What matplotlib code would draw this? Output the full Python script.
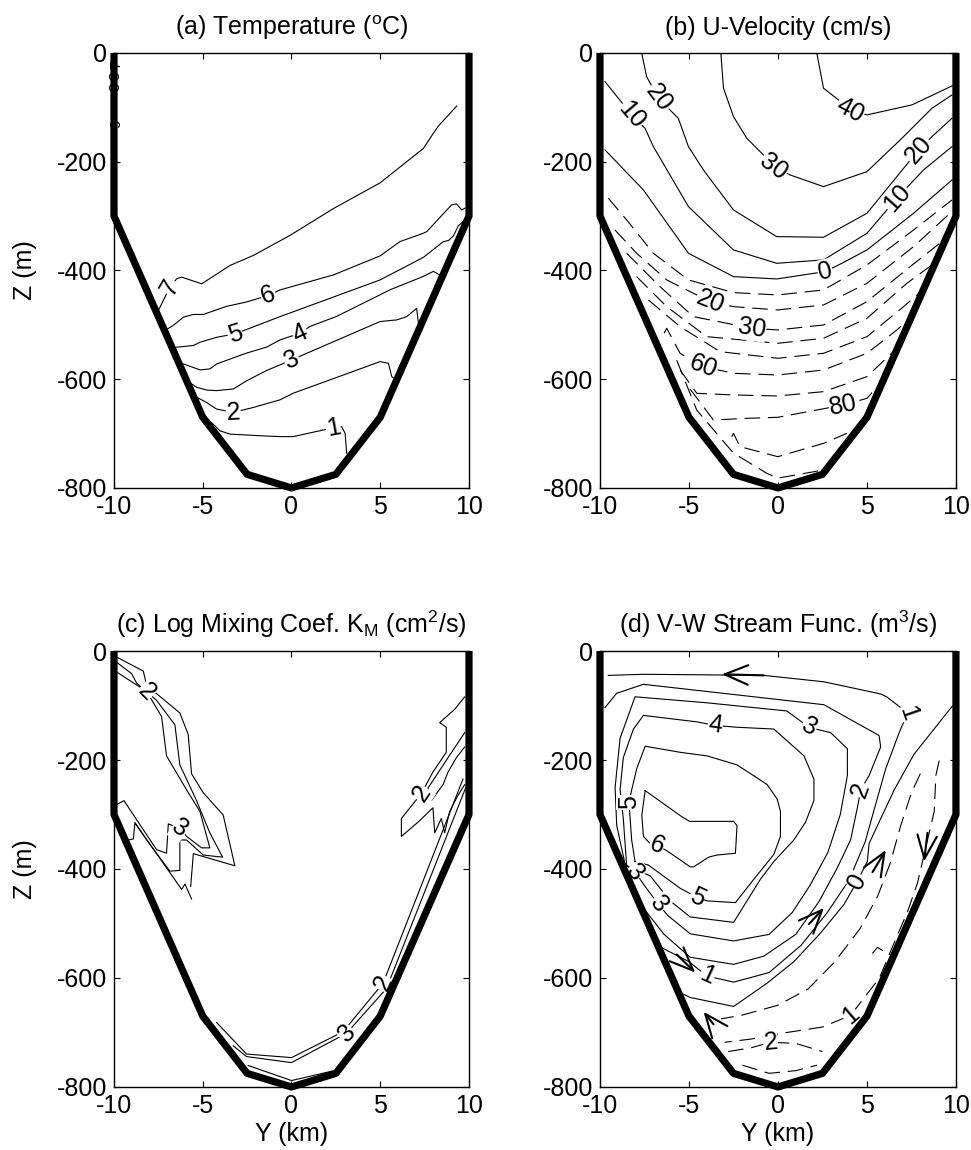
import matplotlib
matplotlib.use('Agg')
import matplotlib.pyplot as plt
import numpy as np

plt.rcParams['font.family'] = ['Liberation Sans', 'DejaVu Sans']
plt.rcParams['axes.unicode_minus'] = False

# ---------------- bathymetry ----------------
BATHY_Y = [-10, -10, -5, -2.5, 0, 2.5, 5, 10, 10]
BATHY_Z = [0, -300, -670, -775, -800, -775, -670, -300, 0]

XTICKS = [-10, -5, 0, 5, 10]
ZTICKS = [0, -200, -400, -600, -800]

# ---------------- (a) temperature contours ----------------
A7_Y = [9.31, 8.27, 7.99, 7.43, 4.99, 2.36, -0.08, -2.15, -3.46, -5.06, -6.19, -6.47, -6.85, -7.50]
A7_Z = [-97.7, -134.6, -148, -175.7, -239, -286.3, -335.5, -372.4, -390.8, -424.6, -412.3, -415.4, -430.7, -473.7]
A6_Y = [9.77, 9.58, 9.30, 9.02, 7.62, 7.43, 6.11, 4.99, 2.36, -0.65, -1.31, -2.53, -3.65, -4.97, -5.53, -6.09, -6.66, -7.10]
A6_Z = [-285.6, -288.7, -277.7, -279.5, -328.6, -331.6, -347, -373.3, -408.3, -435.9, -446, -458, -466, -481, -481, -486, -501, -510]
A5_Y = [9.85, 9.40, 9.12, 8.84, 8.56, 7.43, 4.99, -0.65, -3.18, -4.22, -5.15, -5.53, -6.70]
A5_Z = [-305, -318, -336.6, -345.1, -347, -376, -417.5, -485, -516.7, -523, -532, -538, -542]
A4_Y = [8.45, 8.18, 7.99, 7.43, 6.49, 5.55, 4.99, 2.54, 1.04, 0.48, -0.65, -1.40, -2.53, -4.22, -4.59, -5.15, -6.09, -6.25]
A4_Z = [-411, -404.9, -401.8, -411, -423.3, -435.6, -444.8, -484.6, -503, -515.6, -527.8, -541, -552, -572, -581, -583, -572, -572]
A3_Y = [7.25, 7.15, 7.05, 6.49, 5.93, 4.99, 0.86, 0.01, -1.40, -2.53, -3.28, -4.22, -4.78, -5.34, -5.80]
A3_Z = [-500, -497.3, -469.7, -485, -491, -494, -552.4, -564.6, -584, -603, -618, -621, -620, -615, -605]
A2_Y = [5.75, 5.65, 5.46, 4.99, 0.10, -0.65, -2.15, -3.28, -4.22, -4.78, -5.35]
A2_Z = [-598, -595.3, -570.8, -567.7, -625.8, -638, -652, -661, -655, -643, -633]
A1_Y = [3.25, 3.11, 3.02, 2.83, 2.36, 1.79, 0.10, -0.65, -1.77, -3.46, -4.03, -5.00]
A1_Z = [-742, -736, -699.6, -687.3, -690, -693.4, -705.6, -705.6, -704, -701, -695, -664]
A_LEVELS = ['7', '6', '5', '4', '3', '2', '1']
A_LABEL_IDX = [12, 10, 8, 9, 7, 7, 4]
A_WALL_TEXT = ['7', '8', '8', '9']
A_WALL_Z = [-22, -42, -62, -130]

# ---------------- (b) U-velocity contours ----------------
B40_Y = [2.18, 2.56, 3.40, 4.06, 5.00, 7.53, 9.78]
B40_Z = [0, -65, -86.4, -104.8, -114, -95.6, -60.7]
B30_Y = [-3.21, -3.06, -2.50, -1.75, -0.82, -0.25, 0.68, 2.56, 5.00, 6.87, 8.65, 9.78]
B30_Z = [0, -65, -117.1, -157, -187.6, -209.1, -224.4, -245.9, -218.3, -160, -101.8, -77.3]
B20_Y = [-7.66, -7.38, -6.72, -5.60, -5.03, -4.19, -2.50, -0.07, 2.56, 5.00, 6.68, 7.90, 8.65, 9.78]
B20_Z = [0, -43.5, -83.4, -120.2, -172.3, -215.2, -288.8, -337.8, -339, -294.9, -227.5, -178.4, -153.9, -120.2]
B10_Y = [-9.72, -8.22, -7.47, -7.00, -5.03, -2.50, -0.07, 2.56, 5.00, 6.68, 8.18, 9.78]
B10_Z = [-52.7, -114, -138.6, -172.3, -282.6, -362.3, -386.9, -380.7, -331.7, -267.3, -215.2, -172.3]
B0_Y = [-9.72, -7.56, -5.03, -2.50, -0.07, 2.65, 3.59, 5.00, 7.62, 9.78]
B0_Z = [-178.4, -252, -368.5, -411.4, -415.7, -402.2, -386.9, -362.3, -294.9, -233.6]
B_SOLID_LABELS = [('40', [3]), ('30', [5]), ('20', [2, 11]), ('10', [1, 9]), ('0', [5])]
# dashed (negative) contours
BN10_Y = [-9.53, -8.50, -7.00, -5.03, -2.50, -0.01, 2.56, 5.00, 7.62, 9.78]
BN10_Z = [-267.3, -307.2, -368.5, -417.5, -440.8, -445.1, -435.9, -390, -325.6, -270.4]
BN20_Y = [-9.16, -7.94, -6.25, -3.81, -2.50, -0.01, 2.56, 5.00, 7.62, 9.87]
BN20_Z = [-325.6, -368.5, -417.5, -457.4, -466.6, -472.7, -463.5, -423.7, -356.2, -288.8]
BN30_Y = [-8.50, -6.63, -4.75, -1.47, -0.01, 2.56, 5.00, 7.43, 9.21]
BN30_Z = [-368.5, -429.8, -485, -506.4, -509.5, -500.3, -457.4, -393, -347]
BN40_Y = [-7.94, -6.25, -4.00, -0.01, 2.56, 5.00, 7.24, 8.78]
BN40_Z = [-411.4, -466.6, -521.8, -534, -524.8, -488, -423.7, -386.9]
BN50_Y = [-7.28, -5.50, -3.25, -0.01, 2.56, 5.00, 7.06, 8.14]
BN50_Z = [-454.3, -503.4, -549.4, -561.6, -552.4, -521.8, -466.6, -435.9]
BN60_Y = [-6.40, -6.25, -5.50, -4.19, -2.50, -0.01, 2.56, 5.00, 6.68, 7.51]
BN60_Z = [-515.6, -506.4, -552.4, -576.9, -589.2, -592.3, -583.1, -552.4, -509.5, -485]
BN70_Y = [-5.50, -4.56, -2.50, -0.01, 2.56, 5.00, 6.68]
BN70_Z = [-583.1, -626, -629, -630.9, -622.9, -595.3, -543.2]
BN80_Y = [-4.94, -3.63, -1.75, -0.01, 3.68, 5.00, 5.93]
BN80_Z = [-618, -675, -672, -670.1, -647.5, -635.2, -601.5]
BN90_Y = [-2.60, -2.50, -2.13, -0.01, 2.56, 3.87]
BN90_Z = [-706, -699.6, -724.1, -742.5, -718, -699.6]
BN100_Y = [-5.69, -4.56, -2.50, -0.63, -0.01, 2.56]
BN100_Z = [-565, -657, -736, -773, -782, -767]
B_DASHED_LABELS = [('', []), ('20', [3]), ('30', [3]), ('', []), ('', []), ('60', [3]), ('', []), ('80', [4]), ('', []), ('', [])]

# ---------------- (c) log mixing coefficient ----------------
CL1_Y = [-9.81, -8.35, -8.16, -6.29, -5.82, -5.63, -4.97, -3.85, -3.19, -5.53, -5.68]
CL1_Z = [-11.8, -36.8, -63.1, -113.6, -153, -225.3, -260.1, -300.8, -394.1, -371.8, -432.2]
CL2_Y = [-9.81, -9.01, -8.72, -7.60, -6.57, -6.29, -5.35, -4.60, -3.88, -4.97, -5.91, -6.29, -6.29, -6.85, -8.16, -8.82, -8.91, -9.19]
CL2_Z = [-21.7, -41.4, -59.1, -90.6, -135.3, -208.9, -274.5, -333.7, -378.3, -374.4, -346.8, -346.8, -402.6, -404, -346.8, -315.3, -344.8, -346.8]
CL3_Y = [-9.81, -8.16, -7.32, -7.04, -5.91, -5.16, -4.60, -5.07, -5.91, -6.29, -6.94, -7.04, -7.60, -9.44, -9.81]
CL3_Z = [-39.4, -74.2, -120.2, -192.4, -254.8, -294.3, -361.2, -361.2, -340.2, -325.8, -317.2, -371.1, -364.5, -274.5, -281.1]
CL4_Y = [-8.82, -6.19, -6.00, -5.63]
CL4_Z = [-315.3, -437.4, -427.6, -455.2]
CR1_Y = [9.76, 9.19, 8.35, 8.72, 8.72, 7.97, 7.32, 6.19, 6.19, 7.13, 7.97, 8.07, 8.44, 8.63, 8.91, 9.38, 9.76]
CR1_Z = [-84.1, -107.1, -131.4, -139.9, -185.9, -222, -261.4, -307.4, -340.2, -314, -287.7, -333.7, -307.4, -333.7, -294.3, -264.7, -245]
CR2_Y = [9.76, 8.82, 7.69, 7.88, 8.54, 8.82, 9.29, 9.76]
CR2_Z = [-149.8, -195.7, -251.6, -274.5, -245, -222, -195.7, -176]
CB1_Y = [9.66, 5.16, 3.00, 2.53, 0.00, -2.53, -4.22]
CB1_Z = [-235, -609.5, -694.9, -704.8, -746.1, -739.6, -681.8]
CB2_Y = [9.85, 5.35, 3.10, 2.53, 0.00, -2.53, -3.28]
CB2_Z = [-248, -619.4, -701.5, -711.3, -755.3, -744.2, -724.5]
CB3_Y = [-2.44, 0.00, 2.35]
CB3_Z = [-760.6, -788.2, -770.4]
C_LABELS = [('', []), ('', []), ('2', [1]), ('', []), ('2', [6]), ('', []), ('2', [1]), ('3', [2]), ('', [])]
C_LABEL3_IDX = 9

# ---------------- (d) stream function ----------------
D6_Y = [-7.46, -5.49, -4.97, -2.49, -2.30, -2.39, -3.43, -3.90, -4.74, -4.93, -6.24, -6.81, -7.18, -7.56, -7.65, -7.46]
D6_Z = [-256.2, -302.1, -312.6, -312.6, -320.5, -371.1, -374.4, -378.3, -396.1, -396.1, -366.5, -356.7, -353.4, -340.2, -300.8, -256.2]
D5_Y = [-8.03, -8.22, -8.37, -8.22, -7.93, -7.46, -5.49, -3.99, -2.30, -0.61, -0.05, 0.14, 0.14, -0.23, -1.36, -2.39, -3.99, -4.55, -5.49, -7.28, -8.03]
D5_Z = [-386.2, -346.8, -277.8, -254.8, -215.4, -174.7, -185.9, -192.4, -208.9, -245, -271.3, -294.3, -340.2, -373.1, -419, -461.7, -458.5, -451.9, -435.5, -392.8, -386.2]
D4_Y = [-8.50, -8.69, -8.87, -8.69, -8.12, -7.56, -4.55, -3.52, -2.30, -0.23, 1.46, 2.02, 2.02, 1.55, 0.89, -0.23, -0.99, -2.49, -4.93, -6.06, -7.18, -8.50]
D4_Z = [-395, -307.4, -254.8, -195.7, -143.2, -118.2, -130, -136.6, -139.9, -143.2, -192.4, -235.1, -274.5, -314, -346.8, -386.2, -419, -497.9, -488, -458.5, -412.5, -395]
D3_Y = [-8.60, -9.06, -9.15, -8.87, -8.03, -4.00, 0.50, 1.74, 2.96, 3.90, 3.90, 3.50, 2.80, 1.80, 0.80, -0.50, -2.49, -4.93, -6.20, -6.71, -7.40, -8.03, -8.60]
D3_Z = [-390, -320, -250, -160, -84, -95, -110, -139.9, -149.8, -179.3, -228.6, -300, -370, -430, -480, -520, -532, -519, -485, -465, -435, -405.9, -390]
D2_Y = [-9.72, -9.06, -7.56, 2.58, 5.68, 5.77, 5.12, 4.65, 4.46, 4.08, 3.30, 2.30, 1.00, -0.80, -2.49, -4.93, -6.40, -7.60]
D2_Z = [-103.8, -77.5, -61.1, -98.5, -155, -176, -228.6, -254.8, -287.7, -346.8, -400, -460, -520, -560, -575, -562, -520, -470]
D1_Y = [-9.53, -7.56, -0.80, 2.58, 5.77, 6.11, 7.28, 6.81, 6.06, 5.49, 4.90, 4.00, 2.77, 1.30, -0.50, -2.49, -3.99, -5.00, -6.50]
D1_Z = [-44.7, -42.7, -44.7, -56.5, -78.8, -84.1, -113.6, -149.8, -215.4, -281.1, -350, -420, -480, -540, -590, -607.6, -596.4, -570, -545]
D0_Y = [9.81, 7.65, 6.53, 5.68, 5.12, 5.02, 4.46, 3.71, 2.39, 0.89, -0.61, -2.49, -4.93, -5.55]
D0_Z = [-100.5, -189.2, -254.8, -314, -353.4, -386.2, -422.3, -465, -517.6, -570.1, -609.5, -652.2, -635.8, -626]
D_SOLID_LABELS = [('6', [11]), ('5', [2, 17]), ('4', [7]), ('3', [7, 19, 21]), ('2', [7]), ('1', [6, 16]), ('0', [6])]
DNA_Y = [8.00, 7.50, 6.90, 6.30, 5.60, 4.60, 3.20, 1.70, 0.00, -2.00, -3.20]
DNA_Z = [-225, -260, -320, -390, -450, -510, -570, -620, -650, -668, -675]
DNB_Y = [9.06, 8.87, 8.78, 8.40, 7.84, 7.28, 6.60, 5.70, 4.08, 2.50, 0.50, -1.50, -3.00]
DNB_Z = [-201, -228.6, -294.3, -346.8, -425.6, -478.2, -530, -600, -668.6, -690, -700, -712, -718]
DNC_Y = [5.30, 5.59, 5.90]
DNC_Z = [-555, -543.8, -550]
DND_Y = [-2.80, -1.50, -0.42, 1.00, 2.50]
DND_Z = [-735, -728, -718, -720, -735]
DNE_Y = [-2.00, -0.50, 1.00, 2.20]
DNE_Z = [-760, -775, -770, -760]
D_DASHED_LABELS = [('', []), ('1', [8]), ('', []), ('2', [2]), ('', [])]
ARROW_TAIL_Y = [-0.80, 8.40, 5.31, 1.74, -5.68, -3.62]
ARROW_TAIL_Z = [-44.7, -333.7, -405.9, -501.1, -557, -685]
ARROW_HEAD_Y = [-3.15, 8.21, 6.06, 2.58, -4.65, -4.18]
ARROW_HEAD_Z = [-42.7, -386.2, -365.2, -471.6, -590, -662]

FS = 18
LW = 0.8
DASH = (0, (14, 7))


def setup(ax, title, xlabel=False, ylabel=False):
    ax.set_xlim(-10, 10)
    ax.set_ylim(-800, 0)
    ax.set_xticks(XTICKS)
    ax.set_yticks(ZTICKS)
    ax.tick_params(direction='in', top=True, right=True, length=4, width=0.8,
                   labelsize=FS, pad=5)
    for s in ax.spines.values():
        s.set_linewidth(1.0)
    ax.set_title(title, fontsize=FS, pad=13)
    if xlabel:
        ax.set_xlabel('Y (km)', fontsize=FS, labelpad=3)
    if ylabel:
        ax.set_ylabel('Z (m)', fontsize=FS, labelpad=14)
    ax.plot(BATHY_Y, BATHY_Z, color='black', lw=5.2, solid_joinstyle='round',
            solid_capstyle='butt', clip_on=False, zorder=6)


def label_at(ax, ys, zs, i, text):
    p = ax.transData.transform(np.column_stack([ys, zs]))
    j0 = max(i - 1, 0)
    j1 = min(i + 1, len(ys) - 1)
    dx, dy = p[j1] - p[j0]
    ang = np.degrees(np.arctan2(dy, dx))
    if ang > 90:
        ang -= 180
    if ang <= -90:
        ang += 180
    ax.text(ys[i], zs[i], text, rotation=ang, rotation_mode='anchor',
            ha='center', va='center', fontsize=FS, zorder=4,
            bbox=dict(fc='white', ec='none', pad=0.3))


def line(ax, ys, zs, dashed=False, label=None, idx=()):
    ax.plot(ys, zs, color='black', lw=LW, ls=DASH if dashed else '-', zorder=2)
    if label:
        for i in idx:
            label_at(ax, ys, zs, i, label)


fig = plt.figure(figsize=(9.71, 11.5), dpi=100)
axa = fig.add_axes([0.1174, 0.5757, 0.3656, 0.3783])
axb = fig.add_axes([0.6179, 0.5757, 0.3666, 0.3783])
axc = fig.add_axes([0.1174, 0.0548, 0.3656, 0.3791])
axd = fig.add_axes([0.6179, 0.0548, 0.3666, 0.3791])

setup(axa, '(a) Temperature ($\\mathregular{^o}$C)', ylabel=True)
setup(axb, '(b) U-Velocity (cm/s)')
setup(axc, '(c) Log Mixing Coef. K$\\mathregular{_M}$ (cm$\\mathregular{^2}$/s)', xlabel=True, ylabel=True)
setup(axd, '(d) V-W Stream Func. (m$\\mathregular{^3}$/s)', xlabel=True)

# (a)
a_lines = [(A7_Y, A7_Z), (A6_Y, A6_Z), (A5_Y, A5_Z), (A4_Y, A4_Z),
           (A3_Y, A3_Z), (A2_Y, A2_Z), (A1_Y, A1_Z)]
for (ys, zs), lev, k in zip(a_lines, A_LEVELS, A_LABEL_IDX):
    line(axa, ys, zs, label=lev, idx=[k])
for t, z in zip(A_WALL_TEXT, A_WALL_Z):
    axa.text(-9.9, z, t, rotation=90, ha='center', va='center', fontsize=11, zorder=3)

# (b)
b_solid = [(B40_Y, B40_Z), (B30_Y, B30_Z), (B20_Y, B20_Z), (B10_Y, B10_Z), (B0_Y, B0_Z)]
for (ys, zs), (lab, idx) in zip(b_solid, B_SOLID_LABELS):
    line(axb, ys, zs, label=lab, idx=idx)
b_dash = [(BN10_Y, BN10_Z), (BN20_Y, BN20_Z), (BN30_Y, BN30_Z), (BN40_Y, BN40_Z),
          (BN50_Y, BN50_Z), (BN60_Y, BN60_Z), (BN70_Y, BN70_Z), (BN80_Y, BN80_Z),
          (BN90_Y, BN90_Z), (BN100_Y, BN100_Z)]
for (ys, zs), (lab, idx) in zip(b_dash, B_DASHED_LABELS):
    line(axb, ys, zs, dashed=True, label=lab, idx=idx)

# (c)
c_lines = [(CL1_Y, CL1_Z), (CL2_Y, CL2_Z), (CL3_Y, CL3_Z), (CL4_Y, CL4_Z),
           (CR1_Y, CR1_Z), (CR2_Y, CR2_Z), (CB1_Y, CB1_Z), (CB2_Y, CB2_Z), (CB3_Y, CB3_Z)]
for (ys, zs), (lab, idx) in zip(c_lines, C_LABELS):
    line(axc, ys, zs, label=lab, idx=idx)
label_at(axc, CL3_Y, CL3_Z, C_LABEL3_IDX, '3')

# (d)
d_solid = [(D6_Y, D6_Z), (D5_Y, D5_Z), (D4_Y, D4_Z), (D3_Y, D3_Z),
           (D2_Y, D2_Z), (D1_Y, D1_Z), (D0_Y, D0_Z)]
for (ys, zs), (lab, idx) in zip(d_solid, D_SOLID_LABELS):
    line(axd, ys, zs, label=lab, idx=idx)
d_dash = [(DNA_Y, DNA_Z), (DNB_Y, DNB_Z), (DNC_Y, DNC_Z), (DND_Y, DND_Z), (DNE_Y, DNE_Z)]
for (ys, zs), (lab, idx) in zip(d_dash, D_DASHED_LABELS):
    line(axd, ys, zs, dashed=True, label=lab, idx=idx)
for ty, tz, hy, hz in zip(ARROW_TAIL_Y, ARROW_TAIL_Z, ARROW_HEAD_Y, ARROW_HEAD_Z):
    axd.annotate('', xy=(hy, hz), xytext=(ty, tz),
                 arrowprops=dict(arrowstyle='->,head_length=0.6,head_width=0.25',
                                 lw=1.5, color='black', mutation_scale=28,
                                 shrinkA=0, shrinkB=0), zorder=5)

fig.savefig('out.png', dpi=100)
